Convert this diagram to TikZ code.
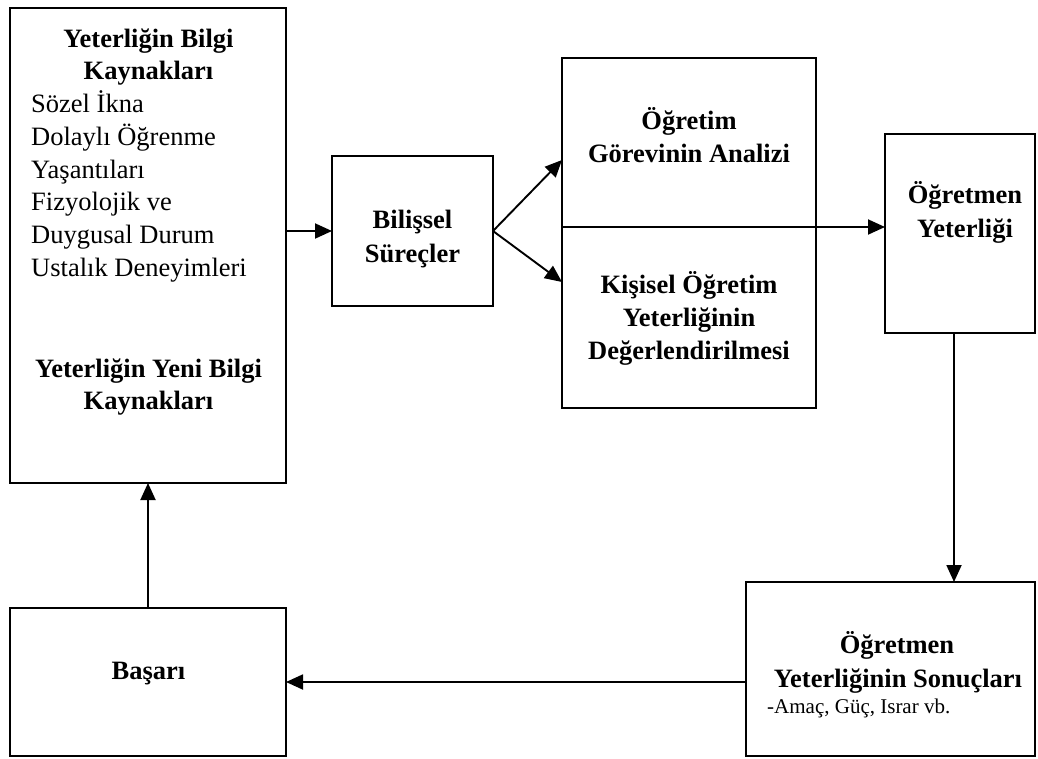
\documentclass[tikz,border=0pt]{standalone}
\usepackage{fontspec}
\setmainfont{Liberation Serif}
\usetikzlibrary{arrows.meta}
\begin{document}
\begin{tikzpicture}[x=1pt,y=-1pt,
  box/.style={draw, line width=2.6pt, inner sep=0pt, outer sep=0pt},
  arr/.style={line width=1.9pt, -{Triangle[length=17pt,width=15pt]}},
  txt/.style={font=\fontsize{26.5}{32}\selectfont, inner sep=0pt, anchor=base},
  btxt/.style={txt, font=\fontsize{26.5}{32}\selectfont\bfseries},
  ltxt/.style={txt, anchor=base west},
  stxt/.style={font=\fontsize{21}{25}\selectfont, inner sep=0pt, anchor=base west}]
\useasboundingbox (0,0) rectangle (1038,758);
\fill[white] (0,0) rectangle (1038,758);
% boxes
\node[box, minimum width=276pt, minimum height=475pt] (src) at (148,245.5) {};
\node[box, minimum width=161pt, minimum height=150pt] (bil) at (412.5,231) {};
\node[box, minimum width=254pt, minimum height=350pt] (mid) at (689,233) {};
\node[box, minimum width=150pt, minimum height=199pt] (yet) at (960,233.5) {};
\node[box, minimum width=289pt, minimum height=174pt] (res) at (890.5,669) {};
\node[box, minimum width=276pt, minimum height=148pt] (bas) at (148,682) {};
% texts left box
\node[btxt] (h1a) at (148.5,47) {Yeterliğin Bilgi};
\node[btxt] (h1b) at (148.5,79) {Kaynakları};
\node[ltxt] (l1) at (31,112) {Sözel İkna};
\node[ltxt] (l2) at (31,145) {Dolaylı Öğrenme};
\node[ltxt] (l3) at (31,178) {Yaşantıları};
\node[ltxt] (l4) at (31,210) {Fizyolojik ve};
\node[ltxt] (l5) at (31,243) {Duygusal Durum};
\node[ltxt] (l6) at (31,276) {Ustalık Deneyimleri};
\node[btxt] (h2a) at (148.5,377) {Yeterliğin Yeni Bilgi};
\node[btxt] (h2b) at (148.5,409) {Kaynakları};
% bilissel
\node[btxt] (b1) at (412.5,228) {Bilişsel};
\node[btxt] (b2) at (412.5,262) {Süreçler};
% middle
\node[btxt] (m1) at (689,129) {Öğretim};
\node[btxt] (m2) at (689,162) {Görevinin Analizi};
\node[btxt] (m3) at (689,293) {Kişisel Öğretim};
\node[btxt] (m4) at (689,326) {Yeterliğinin};
\node[btxt] (m5) at (689,359) {Değerlendirilmesi};
% ogretmen yeterligi
\node[btxt] (y1) at (965,203) {Öğretmen};
\node[btxt] (y2) at (965,237) {Yeterliği};
% results
\node[btxt] (r1) at (897,653) {Öğretmen};
\node[btxt] (r2) at (898,687) {Yeterliğinin Sonuçları};
\node[stxt] (r3) at (767,713) {-Amaç, Güç, Israr vb.};
% basari
\node[btxt] (s1) at (148.5,679) {Başarı};
% connectors
\coordinate (f1) at (562,160);
\coordinate (f2) at (562,282);
\coordinate (dv) at (562,227);
\coordinate (dn) at (954,333);
\draw[arr] (src.east |- bil.west) -- (bil.west);
\draw[arr] (bil.east) -- (f1);
\draw[arr] (bil.east) -- (f2);
\draw[arr] (dv) -- (dv -| yet.west);
\draw[arr] (dn) -- (dn |- res.north);
\draw[arr] (res.west |- bas.east) -- (bas.east);
\draw[arr] (bas.north) -- (src.south);
\end{tikzpicture}
\end{document}
